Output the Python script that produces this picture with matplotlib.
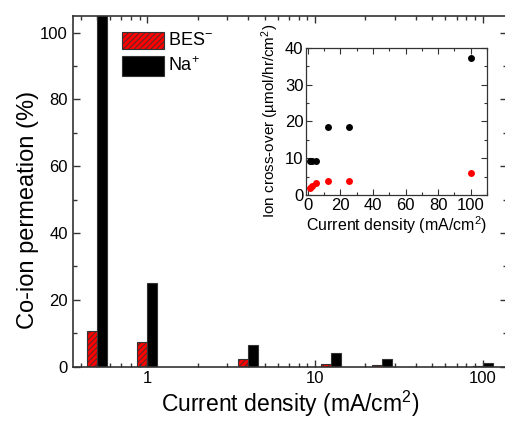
import numpy as np
import matplotlib.pyplot as plt
from matplotlib.patches import Rectangle
from matplotlib.ticker import MultipleLocator, LogLocator, NullFormatter, FixedLocator, FixedFormatter

# main bar chart: co-ion permeation (%)
current = [0.5, 1, 4, 12.5, 25, 100]
bes_perm = [10.7, 7.3, 2.3, 0.9, 0.5, 0.2]
na_perm = [130, 25.0, 6.4, 4.1, 2.1, 1.2]

# inset: ion cross-over (umol/hr/cm2)
inset_current = [1, 2.5, 5, 12.5, 25, 100]
inset_bes = [2.0, 2.5, 3.3, 3.9, 3.9, 5.9]
inset_na = [9.3, 9.3, 9.3, 18.6, 18.6, 37.2]

plt.rcParams['font.family'] = ['Liberation Sans', 'DejaVu Sans']
plt.rcParams['hatch.linewidth'] = 0.6
plt.rcParams['mathtext.fontset'] = 'custom'
plt.rcParams['mathtext.rm'] = 'Liberation Sans'
plt.rcParams['mathtext.it'] = 'Liberation Sans'

spine_col = '#333333'
W, H = 506, 422

fig = plt.figure(figsize=[5.06, 4.22], dpi=100)
ax = fig.add_axes([0.1437, 0.1315, 1.0 - 0.1437 + 0.001, 0.962 - 0.1315])

ax.set_xscale('log')
w = 10 / 167.7  # bar width in decades (constant pixel width)
x = np.array(current, dtype=float)
ax.bar(x * 10 ** (-w), bes_perm, width=x - x * 10 ** (-w), align='edge',
       color='red', edgecolor=spine_col, linewidth=0.8, hatch='//////')
ax.bar(x, na_perm, width=x * 10 ** w - x, align='edge',
       color='black', edgecolor=spine_col, linewidth=0.8)

ax.set_xlim(0.359, 138.7)
ax.set_ylim(0, 105)
ax.yaxis.set_major_locator(MultipleLocator(20))
ax.yaxis.set_minor_locator(MultipleLocator(10))
ax.xaxis.set_major_locator(FixedLocator([1, 10, 100]))
ax.xaxis.set_major_formatter(FixedFormatter(['1', '10', '100']))
ax.xaxis.set_minor_locator(LogLocator(base=10, subs=np.arange(2, 10)))
ax.xaxis.set_minor_formatter(NullFormatter())
ax.tick_params(which='both', direction='in', top=True, right=True, colors=spine_col,
               labelcolor='black', labelsize=12)
ax.tick_params(which='major', length=5, width=1)
ax.tick_params(which='minor', length=3, width=1)
for s in ax.spines.values():
    s.set_color(spine_col)
    s.set_linewidth(1.2)
ax.set_xlabel('Current density (mA/cm$^{\\mathregular{2}}$)', fontsize=16.5, labelpad=2)
ax.set_ylabel('Co-ion permeation (%)', fontsize=17)
ax.yaxis.set_label_coords(-0.077, 0.447)

# legend drawn by hand
fig.patches.append(Rectangle((122.5 / W, 1 - 49.3 / H), 41.8 / W, 17.6 / H, transform=fig.transFigure,
                             facecolor='red', edgecolor=spine_col, linewidth=0.8, hatch='//////'))
fig.patches.append(Rectangle((122.5 / W, 1 - 75.7 / H), 41.8 / W, 20 / H, transform=fig.transFigure,
                             facecolor='black', edgecolor=spine_col, linewidth=0.8))
fig.text(168 / W, 1 - 40.5 / H, 'BES$^{\\mathregular{-}}$', fontsize=13, va='center', ha='left')
fig.text(168 / W, 1 - 65.5 / H, 'Na$^{\\mathregular{+}}$', fontsize=13, va='center', ha='left')

# inset
ins = fig.add_axes([306.3 / W, 1 - 195 / H, 180.7 / W, 147.3 / H])
ins.plot(inset_current, inset_na, 'o', color='black', ms=5, mec='none')
ins.plot(inset_current, inset_bes, 'o', color='red', ms=5, mec='none')
ins.set_xlim(-1, 110)
ins.set_ylim(0, 40)
ins.xaxis.set_major_locator(MultipleLocator(20))
ins.xaxis.set_minor_locator(MultipleLocator(10))
ins.yaxis.set_major_locator(MultipleLocator(10))
ins.yaxis.set_minor_locator(MultipleLocator(5))
ins.tick_params(which='both', direction='in', top=True, right=True, colors=spine_col,
                labelcolor='black', labelsize=12, pad=2)
ins.tick_params(which='major', length=4, width=0.8)
ins.tick_params(which='minor', length=2, width=0.8)
for s in ins.spines.values():
    s.set_color(spine_col)
    s.set_linewidth(0.9)
ins.set_xlabel('Current density (mA/cm$^{\\mathregular{2}}$)', fontsize=11.5, labelpad=1)
ins.set_ylabel('Ion cross-over (\u00b5mol/hr/cm$^{\\mathregular{2}}$)', fontsize=11, labelpad=3)

fig.savefig('out.png', dpi=100)
